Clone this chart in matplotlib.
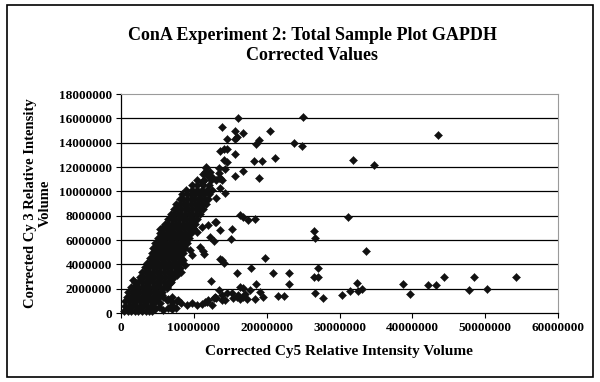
import matplotlib.pyplot as plt
from matplotlib.patches import Rectangle

# values, in millions (Cy5 = x, Cy3 = y)

# dense band, read row by row: each row is one Cy3 level with its Cy5 values
band_cy3 = [0.15, 0.55, 0.95, 1.35, 1.75, 2.15, 2.55, 2.95, 3.35, 3.75,
            4.15, 4.55, 4.95, 5.35, 5.75, 6.15, 6.55, 6.95, 7.35, 7.75,
            8.15, 8.55, 8.95, 9.35, 9.75, 10.15, 10.55, 10.95, 11.4, 11.9]
band_cy5 = [
    [0.4, 0.9, 1.4, 1.9, 2.4, 2.9, 3.4, 3.9, 4.2],
    [0.55, 1.05, 1.55, 2.05, 2.55, 3.05, 3.55, 4.05, 4.4],
    [0.6, 1.1, 1.6, 2.1, 2.6, 3.1, 3.6, 4.1, 4.6, 4.75],
    [0.85, 1.35, 1.85, 2.35, 2.85, 3.35, 3.85, 4.35, 4.85, 5.0],
    [1.0, 1.5, 2.0, 2.5, 3.0, 3.5, 4.0, 4.5, 5.0, 5.5, 5.6],
    [1.35, 1.85, 2.35, 2.85, 3.35, 3.85, 4.35, 4.85, 5.35, 5.85, 6.25],
    [1.9, 2.4, 2.9, 3.4, 3.9, 4.4, 4.9, 5.4, 5.9, 6.4, 6.8],
    [2.55, 3.05, 3.55, 4.05, 4.55, 5.05, 5.55, 6.05, 6.55, 7.05, 7.2],
    [2.9, 3.4, 3.9, 4.4, 4.9, 5.4, 5.9, 6.4, 6.9, 7.4, 7.5],
    [3.35, 3.85, 4.35, 4.85, 5.35, 5.85, 6.35, 6.85, 7.35, 7.75],
    [3.6, 4.1, 4.6, 5.1, 5.6, 6.1, 6.6, 7.1, 7.6, 8.0],
    [3.95, 4.45, 4.95, 5.45, 5.95, 6.45, 6.95, 7.45, 7.95, 8.2],
    [4.2, 4.7, 5.2, 5.7, 6.2, 6.7, 7.2, 7.7, 8.2, 8.5],
    [4.45, 4.95, 5.45, 5.95, 6.45, 6.95, 7.45, 7.95, 8.45, 8.8],
    [4.7, 5.2, 5.7, 6.2, 6.7, 7.2, 7.7, 8.2, 8.7, 9.0],
    [5.05, 5.55, 6.05, 6.55, 7.05, 7.55, 8.05, 8.55, 9.05, 9.3],
    [5.3, 5.8, 6.3, 6.8, 7.3, 7.8, 8.3, 8.8, 9.3, 9.6],
    [5.65, 6.15, 6.65, 7.15, 7.65, 8.15, 8.65, 9.15, 9.65, 9.9],
    [6.0, 6.5, 7.0, 7.5, 8.0, 8.5, 9.0, 9.5, 10.0, 10.2],
    [6.45, 6.95, 7.45, 7.95, 8.45, 8.95, 9.45, 9.95, 10.45],
    [6.8, 7.3, 7.8, 8.3, 8.8, 9.3, 9.8, 10.3, 10.8],
    [7.25, 7.75, 8.25, 8.75, 9.25, 9.75, 10.25, 10.75, 11.25],
    [7.6, 8.1, 8.6, 9.1, 9.6, 10.1, 10.6, 11.1, 11.6],
    [8.05, 8.55, 9.05, 9.55, 10.05, 10.55, 11.05, 11.55, 11.9],
    [8.4, 9.0, 9.6, 10.2, 10.8, 11.4, 12.1],
    [8.9, 9.7, 10.4, 11.1, 11.8, 12.5],
    [9.7, 10.5, 11.3, 12.1],
    [10.5, 11.4, 12.3],
    [11.2, 12.0],
    [11.7],
]

# low Cy3 tail running out to the right
tail_cy5 = [4.6, 5.2, 5.8, 6.4, 7.0, 7.6, 4.4, 4.9, 5.35, 5.6, 6.3, 6.7, 7.0,
            7.65, 8.3, 9.0, 9.7, 10.4, 11.1, 11.8, 12.45, 13.1, 13.8, 7.2,
            5.13, 5.8, 6.5, 6.96, 7.87, 11.5, 12.0, 12.7, 13.4, 13.8, 12.9,
            14.5, 14.3, 15.2, 15.4, 15.9, 16.1, 16.3, 16.8, 17.3, 17.0, 17.7,
            18.4, 19.1, 19.5, 21.5, 22.4]
tail_cy3 = [0.3, 0.5, 0.25, 0.4, 0.3, 0.45, 0.52, 1.34, 0.8, 1.48, 1.07, 0.52,
            0.93, 0.99, 0.8, 0.66, 0.8, 0.66, 0.71, 0.93, 0.66, 1.21, 1.48,
            0.58, 1.21, 1.34, 1.12, 1.29, 1.07, 0.93, 1.07, 1.26, 1.89, 1.07,
            1.34, 1.62, 1.07, 1.67, 1.21, 1.34, 1.48, 1.12, 1.34, 1.18, 1.56,
            1.89, 1.12, 1.75, 1.29, 1.40, 1.40]

# scattered points away from the band
spread_cy5 = [16.1, 25.0, 13.8, 15.7, 16.8, 20.4, 15.9, 15.7, 14.5, 18.9, 18.5,
              23.7, 24.8, 13.6, 14.1, 14.6, 15.7, 14.1, 14.5, 18.2, 19.3, 21.1,
              11.7, 11.5, 12.2, 12.0, 11.1, 13.4, 13.5, 13.6, 13.8, 14.3, 15.7,
              16.7, 19.0, 13.4, 11.3, 13.1, 13.6, 14.3, 13.1, 12.5,
              31.8, 34.8, 43.5, 31.2, 26.5, 26.6, 33.7, 27.1, 26.5, 27.1, 26.6,
              27.7, 30.3, 31.5, 32.4, 32.6, 33.1, 38.7, 39.7, 42.1, 43.2, 44.3,
              47.8, 48.5, 50.2, 54.2,
              16.3, 16.8, 17.5, 18.4, 12.0, 12.9, 13.6, 15.3, 12.2, 12.8, 15.1,
              10.8, 11.3, 11.4, 13.6, 14.1, 19.8, 17.8, 15.9, 20.9, 23.1, 12.4,
              18.6, 23.1, 16.3, 16.8, 11.1, 13.1, 9.5, 9.7, 8.55, 8.8, 8.1, 8.3,
              13.8, 5.4, 9.9, 10.4, 7.65, 7.2, 6.7, 6.3, 1.7]
spread_cy3 = [16.0, 16.1, 15.3, 15.0, 14.8, 15.0, 14.5, 14.3, 14.3, 14.2, 13.9,
              14.0, 13.7, 13.3, 13.45, 13.45, 13.1, 12.6, 12.4, 12.5, 12.5, 12.7,
              12.0, 11.6, 11.6, 11.3, 10.8, 11.9, 11.5, 11.1, 10.9, 11.8, 11.3,
              11.7, 11.1, 11.07, 10.85, 10.9, 10.25, 9.84, 9.43, 11.2,
              12.6, 12.2, 14.6, 7.9, 6.7, 6.2, 5.07, 3.67, 2.98, 2.98, 1.67,
              1.23, 1.5, 1.83, 2.47, 1.83, 2.0, 2.38, 1.6, 2.3, 2.3, 3.0,
              1.86, 3.0, 1.95, 3.0,
              8.05, 7.87, 7.64, 7.73, 7.25, 7.45, 6.85, 6.88, 6.28, 5.9, 6.08,
              5.45, 5.1, 4.85, 4.41, 4.08, 4.5, 3.72, 3.31, 3.31, 3.26, 2.63,
              2.36, 2.36, 2.16, 2.03, 7.1, 7.5, 5.2, 4.8, 4.36, 3.95, 3.67, 3.35,
              4.36, 6.9, 6.96, 6.68, 3.12, 2.85, 2.44, 2.03, 2.7]

x_ticks = [0, 10000000, 20000000, 30000000, 40000000, 50000000, 60000000]
y_ticks = [0, 2000000, 4000000, 6000000, 8000000, 10000000, 12000000,
           14000000, 16000000, 18000000]

plt.rcParams['font.family'] = 'Liberation Serif'
plt.rcParams['font.weight'] = 'bold'

fig = plt.figure(figsize=(6, 3.82), dpi=100)
ax = fig.add_axes([0.2017, 0.1806, 0.7283, 0.5733])

# gitterlinien (ohne 0 und oberen rand)
ax.hlines(y_ticks[1:-1], x_ticks[0], x_ticks[-1], color='black', lw=0.9, zorder=1)

# punkte
cy5 = []
cy3 = []
for y, row in zip(band_cy3, band_cy5):
    cy5 += row
    cy3 += [y] * len(row)
cy5 += tail_cy5 + spread_cy5
cy3 += tail_cy3 + spread_cy3
ax.scatter([v * 1e6 for v in cy5], [v * 1e6 for v in cy3], marker='D', s=17,
           color='#111111', edgecolors='#111111', linewidths=0.3, zorder=3,
           clip_on=False)

ax.set_xlim(x_ticks[0], x_ticks[-1])
ax.set_ylim(y_ticks[0], y_ticks[-1])
ax.set_xticks(x_ticks)
ax.set_yticks(y_ticks)
ax.set_xticklabels([str(v) for v in x_ticks])
ax.set_yticklabels([str(v) for v in y_ticks])
ax.tick_params(direction='out', length=3.5, width=0.8, labelsize=9.5, pad=3)

for side in ['top', 'right']:
    ax.spines[side].set_color('#9a9a9a')
    ax.spines[side].set_linewidth(0.8)
for side in ['left', 'bottom']:
    ax.spines[side].set_linewidth(0.9)

# beschriftung
fig.text(312 / 600, 1 - 35 / 382, 'ConA Experiment 2: Total Sample Plot GAPDH',
         ha='center', va='center', fontsize=13)
fig.text(312 / 600, 1 - 55 / 382, 'Corrected Values',
         ha='center', va='center', fontsize=13)
fig.text(339 / 600, 1 - 352 / 382, 'Corrected Cy5 Relative Intensity Volume',
         ha='center', va='center', fontsize=11)
fig.text(38 / 600, 1 - 203 / 382, 'Corrected Cy 3 Relative Intensity\nVolume',
         ha='center', va='center', rotation=90, fontsize=10.5, multialignment='center')

# rahmen um das ganze diagramm
fig.patches.append(Rectangle((7 / 600, 5 / 382), 586 / 600, 372 / 382,
                             transform=fig.transFigure, fill=False,
                             edgecolor='black', lw=1.2))

fig.savefig('out.png', dpi=100, facecolor='white')
